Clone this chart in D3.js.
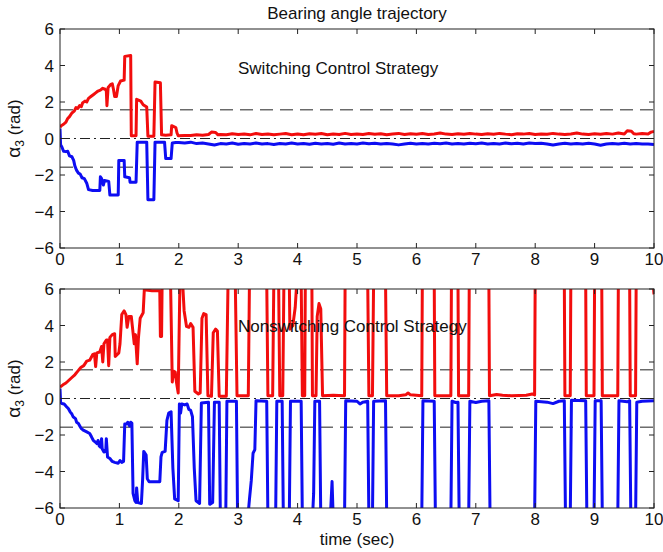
<!DOCTYPE html>
<html><head><meta charset="utf-8">
<script src="https://cdn.jsdelivr.net/npm/d3@7"></script>
<style>
body{margin:0;background:#fff}
text{font-family:"Liberation Sans",Arial,Helvetica,sans-serif;fill:#111}
</style>
</head><body>
<svg id="chart" width="663" height="552"></svg>
<script>
// ---------- data ----------
const xTicks = [0,1,2,3,4,5,6,7,8,9,10];
const yTicks = [-6,-4,-2,0,2,4,6];
const thresholds = [1.5708, -1.5708];
const titleText = "Bearing angle trajectory";
const panelLabels = ["Switching Control Strategy", "Nonswitching Control Strategy"];
const xLabel = "time (sec)";

// Switching control (top) — red / blue trajectories [t, alpha3]
const switchRed = [[0,0.62],[0.02,0.7],[0.06,0.78],[0.1,0.9],[0.13,1.1],[0.16,1.2],[0.2,1.4],[0.24,1.5],[0.27,1.7],[0.3,1.65],[0.33,1.8],[0.36,1.75],[0.38,1.95],[0.42,2.05],[0.45,2.0],[0.48,2.2],[0.52,2.3],[0.56,2.4],[0.6,2.5],[0.64,2.6],[0.68,2.65],[0.72,2.75],[0.76,2.7],[0.78,2.6],[0.79,1.8],[0.81,2.8],[0.85,2.95],[0.88,3.0],[0.9,2.7],[0.92,2.3],[0.95,2.3],[0.98,2.9],[1.02,3.15],[1.08,3.2],[1.09,4.5],[1.19,4.55],[1.2,0.15],[1.28,0.15],[1.29,2.15],[1.36,2.05],[1.4,1.85],[1.46,1.72],[1.48,0.12],[1.58,0.12],[1.6,3.1],[1.69,3.05],[1.71,0.2],[1.78,0.18],[1.87,0.2],[1.88,0.7],[1.95,0.6],[1.97,0.3],[1.99,0.15],
[2.1,0.17],[2.2,0.16],[2.3,0.2],[2.4,0.18],[2.5,0.22],[2.55,0.35],[2.62,0.33],[2.66,0.2],[2.7,0.22],[2.8,0.2],[2.9,0.26],[3.0,0.22],[3.1,0.25],[3.2,0.2],[3.3,0.27],[3.4,0.22],[3.5,0.25],[3.6,0.2],[3.7,0.24],[3.8,0.27],[3.9,0.21],[4.0,0.25],[4.1,0.2],[4.2,0.26],[4.3,0.23],[4.4,0.27],[4.5,0.21],[4.6,0.25],[4.7,0.22],[4.8,0.28],[4.9,0.22],[5.0,0.25],[5.1,0.22],[5.2,0.27],[5.3,0.23],[5.4,0.26],[5.5,0.21],[5.6,0.25],[5.7,0.28],[5.8,0.22],[5.9,0.26],[6.0,0.23],[6.1,0.27],[6.2,0.22],[6.3,0.25],[6.4,0.3],[6.5,0.24],[6.6,0.22],[6.7,0.26],[6.8,0.23],[6.9,0.27],[7.0,0.24],[7.1,0.22],[7.2,0.26],[7.3,0.23],[7.4,0.28],[7.5,0.24],[7.6,0.21],[7.7,0.26],[7.8,0.24],[7.9,0.27],[8.0,0.22],[8.1,0.25],[8.2,0.23],[8.3,0.28],[8.4,0.24],[8.5,0.22],[8.6,0.25],[8.7,0.3],[8.8,0.24],[8.9,0.22],[9.0,0.26],[9.1,0.23],[9.2,0.27],[9.3,0.24],[9.4,0.3],[9.5,0.25],[9.55,0.42],[9.62,0.4],[9.66,0.26],[9.7,0.24],[9.8,0.27],[9.9,0.25],[9.95,0.35],[10,0.38]];

const switchBlue = [[0,0.55],[0.01,-0.35],[0.03,-0.45],[0.06,-0.7],[0.1,-0.72],[0.13,-0.7],[0.16,-0.95],[0.2,-1.0],[0.23,-1.2],[0.25,-1.5],[0.28,-1.75],[0.31,-1.9],[0.34,-1.95],[0.37,-2.15],[0.41,-2.2],[0.45,-2.45],[0.48,-2.8],[0.55,-2.85],[0.67,-2.85],[0.68,-2.1],[0.7,-2.2],[0.73,-2.55],[0.75,-2.3],[0.82,-2.35],[0.84,-3.1],[0.98,-3.1],[0.99,-1.2],[1.08,-1.2],[1.09,-2.1],[1.17,-2.15],[1.18,-2.4],[1.28,-2.4],[1.3,-0.2],[1.46,-0.2],[1.48,-3.35],[1.58,-3.35],[1.6,-0.2],[1.76,-0.2],[1.78,-1.1],[1.87,-1.1],[1.89,-0.25],[1.95,-0.22],
[2.0,-0.22],[2.1,-0.25],[2.2,-0.2],[2.3,-0.28],[2.4,-0.25],[2.5,-0.3],[2.6,-0.36],[2.7,-0.28],[2.8,-0.3],[2.9,-0.25],[3.0,-0.32],[3.1,-0.27],[3.2,-0.3],[3.3,-0.25],[3.4,-0.3],[3.5,-0.28],[3.6,-0.33],[3.7,-0.27],[3.8,-0.3],[3.9,-0.25],[4.0,-0.3],[4.1,-0.27],[4.2,-0.32],[4.3,-0.26],[4.4,-0.3],[4.5,-0.27],[4.6,-0.31],[4.7,-0.25],[4.8,-0.3],[4.9,-0.27],[5.0,-0.3],[5.1,-0.25],[5.2,-0.29],[5.3,-0.26],[5.4,-0.3],[5.5,-0.27],[5.6,-0.3],[5.7,-0.35],[5.8,-0.3],[5.9,-0.26],[6.0,-0.3],[6.1,-0.27],[6.2,-0.3],[6.3,-0.26],[6.4,-0.29],[6.5,-0.25],[6.6,-0.3],[6.7,-0.27],[6.8,-0.3],[6.9,-0.26],[7.0,-0.29],[7.1,-0.25],[7.2,-0.3],[7.3,-0.27],[7.4,-0.3],[7.5,-0.25],[7.6,-0.29],[7.7,-0.26],[7.8,-0.3],[7.9,-0.25],[8.0,-0.28],[8.1,-0.26],[8.2,-0.3],[8.3,-0.36],[8.4,-0.3],[8.5,-0.26],[8.6,-0.3],[8.7,-0.27],[8.8,-0.3],[8.9,-0.26],[9.0,-0.3],[9.1,-0.37],[9.2,-0.3],[9.3,-0.27],[9.4,-0.3],[9.5,-0.26],[9.6,-0.3],[9.7,-0.28],[9.8,-0.3],[9.9,-0.3],[10,-0.33]];

// Nonswitching control (bottom) — values beyond ±6 leave the axes
const nonswRed = [[0,0.62],[0.05,0.75],[0.1,0.85],[0.15,1.0],[0.2,1.15],[0.25,1.3],[0.3,1.5],[0.35,1.7],[0.4,1.8],[0.45,2.05],[0.5,2.1],[0.55,2.4],[0.58,2.45],[0.6,1.75],[0.62,2.5],[0.67,2.55],[0.7,2.85],[0.72,2.0],[0.74,3.0],[0.78,3.2],[0.8,3.2],[0.82,1.8],[0.84,3.35],[0.88,3.5],[0.92,3.55],[0.93,2.3],[0.96,2.4],[0.99,2.5],[1.01,3.0],[1.04,4.6],[1.08,4.8],[1.11,4.6],[1.13,3.9],[1.16,4.5],[1.2,4.5],[1.23,3.6],[1.25,3.0],[1.27,3.5],[1.3,1.9],[1.32,3.3],[1.35,4.4],[1.4,4.7],[1.42,6.0],[1.45,5.95],[1.55,5.9],[1.68,5.9],[1.69,3.4],[1.71,3.4],[1.72,6.6],[1.86,6.6],[1.89,0.9],[1.91,1.5],[1.94,1.45],[1.96,0.9],[1.99,0.3],[2.02,6.6],[2.06,6.6],[2.09,4.8],[2.13,3.95],[2.17,3.9],[2.2,4.1],[2.24,3.9],[2.27,0.4],[2.33,0.25],[2.36,0.3],[2.39,4.4],[2.42,4.65],[2.46,4.6],[2.49,0.15],[2.55,0.12],[2.58,3.6],[2.62,3.8],[2.65,3.7],[2.68,0.12],[2.8,0.12],[2.83,6.6],[2.95,6.6],[2.98,0.15],[3.17,0.15],[3.19,6.6],[3.48,6.6],[3.5,0.15],[3.58,0.15],[3.6,6.6],[3.68,6.6],[3.7,0.15],[3.75,0.15],[3.77,6.6],[3.86,6.6],[3.87,3.8],[3.92,4.0],[3.96,5.0],[3.99,6.6],[4.06,6.6],[4.08,0.15],[4.12,0.15],[4.13,6.6],[4.24,6.6],[4.25,0.15],[4.31,0.15],[4.33,4.5],[4.36,5.2],[4.39,4.9],[4.42,0.15],[4.6,0.18],[4.79,0.15],[4.8,6.6],[5.18,6.6],[5.2,0.15],[5.26,0.15],[5.28,6.6],[5.48,6.6],[5.5,0.15],[5.7,0.15],[5.82,0.2],[5.86,0.3],[5.9,0.2],[6.09,0.15],[6.1,6.6],[6.3,6.6],[6.31,0.15],[6.58,0.15],[6.59,6.6],[6.7,6.6],[6.71,0.15],[6.88,0.15],[6.89,6.6],[7.22,6.6],[7.23,0.15],[7.35,0.22],[7.45,0.18],[7.6,0.15],[7.85,0.18],[7.95,0.25],[7.99,0.2],[8.0,6.6],[8.49,6.6],[8.5,0.15],[8.59,0.15],[8.6,6.6],[8.85,6.6],[8.86,0.15],[8.99,0.15],[9.0,6.6],[9.12,6.6],[9.13,0.15],[9.39,0.15],[9.4,6.6],[9.59,6.6],[9.6,0.15],[9.69,0.15],[9.7,6.6],[9.98,6.6],[10,5.7]];

const nonswBlue = [[0,0.55],[0.01,-0.2],[0.03,-0.27],[0.07,-0.3],[0.11,-0.45],[0.14,-0.55],[0.17,-0.73],[0.2,-0.85],[0.22,-1.0],[0.26,-1.1],[0.28,-1.3],[0.31,-1.37],[0.34,-1.55],[0.36,-1.65],[0.4,-1.75],[0.45,-1.83],[0.5,-1.92],[0.53,-2.1],[0.56,-2.29],[0.6,-2.4],[0.62,-2.47],[0.64,-2.3],[0.66,-2.6],[0.68,-2.66],[0.7,-2.2],[0.71,-2.75],[0.74,-2.93],[0.77,-2.9],[0.78,-2.2],[0.8,-3.2],[0.84,-3.29],[0.88,-3.45],[0.92,-3.5],[0.98,-3.55],[1.01,-3.4],[1.04,-3.5],[1.07,-3.45],[1.09,-1.4],[1.12,-1.4],[1.14,-1.3],[1.17,-1.5],[1.19,-1.3],[1.21,-1.35],[1.23,-5.2],[1.26,-5.6],[1.28,-5.7],[1.29,-4.9],[1.31,-5.7],[1.37,-5.75],[1.39,-4.5],[1.41,-2.9],[1.45,-3.1],[1.47,-4.4],[1.5,-4.56],[1.68,-4.56],[1.7,-3.2],[1.72,-2.95],[1.77,-2.9],[1.8,-1.2],[1.83,-0.8],[1.87,-0.73],[1.9,-3.8],[1.93,-5.5],[1.99,-5.6],[2.01,-0.3],[2.03,-0.8],[2.05,-0.3],[2.1,-0.35],[2.14,-0.3],[2.17,-0.6],[2.2,-0.65],[2.23,-1.0],[2.26,-3.8],[2.29,-5.6],[2.35,-5.75],[2.38,-0.25],[2.5,-0.2],[2.52,-5.8],[2.57,-5.7],[2.6,-0.2],[2.68,-0.2],[2.7,-6.6],[2.79,-6.6],[2.81,-0.15],[2.97,-0.15],[2.99,-6.6],[3.16,-6.6],[3.19,-5.5],[3.22,-4.5],[3.25,-3.0],[3.28,-2.8],[3.3,-0.12],[3.48,-0.15],[3.5,-6.6],[3.63,-6.6],[3.65,-0.15],[3.74,-0.15],[3.76,-6.6],[3.86,-6.6],[3.88,-0.15],[4.06,-0.15],[4.08,-6.6],[4.25,-6.6],[4.27,-5.2],[4.29,-0.15],[4.37,-0.15],[4.39,-6.6],[4.55,-6.6],[4.58,-4.55],[4.6,-6.6],[4.79,-6.6],[4.81,-0.12],[5.0,-0.15],[5.05,-0.3],[5.1,-0.2],[5.18,-0.15],[5.2,-6.6],[5.26,-6.6],[5.28,-0.15],[5.48,-0.12],[5.5,-6.6],[6.09,-6.6],[6.11,-0.12],[6.3,-0.15],[6.32,-6.6],[6.58,-6.6],[6.6,-0.15],[6.66,-0.22],[6.7,-0.2],[6.72,-6.6],[6.88,-6.6],[6.9,-0.15],[7.0,-0.22],[7.1,-0.15],[7.22,-0.12],[7.24,-6.6],[7.99,-6.6],[8.01,-0.15],[8.2,-0.2],[8.3,-0.28],[8.4,-0.15],[8.49,-0.12],[8.51,-6.6],[8.59,-6.6],[8.61,-0.1],[8.85,-0.12],[8.87,-6.6],[8.99,-6.6],[9.01,-0.12],[9.11,-0.12],[9.13,-6.6],[9.39,-6.6],[9.41,-0.12],[9.55,-0.18],[9.59,-0.12],[9.61,-6.6],[9.69,-6.6],[9.71,-0.2],[9.8,-0.15],[10,-0.12]];

// ---------- drawing ----------
const svg = d3.select("#chart");
const left = 60, right = 654;
const x = d3.scaleLinear().domain([0,10]).range([left,right]);
const fmt = d3.format("d");

svg.append("text").attr("x",(left+right)/2).attr("y",19).attr("text-anchor","middle")
  .attr("font-size",17).text(titleText);

const panels = [
  {top:29, bottom:248, red:switchRed, blue:switchBlue, label:panelLabels[0], lx:238, ly:74},
  {top:289, bottom:508, red:nonswRed, blue:nonswBlue, label:panelLabels[1], lx:238, ly:332}
];

panels.forEach((p,i)=>{
  const y = d3.scaleLinear().domain([-6,6]).range([p.bottom,p.top]);
  const g = svg.append("g");
  const clipId = "clip"+i;
  svg.append("clipPath").attr("id",clipId).append("rect")
    .attr("x",left).attr("y",p.top).attr("width",right-left).attr("height",p.bottom-p.top);

  // reference lines
  g.selectAll(".th").data(thresholds).join("line")
    .attr("x1",left).attr("x2",right).attr("y1",d=>y(d)).attr("y2",d=>y(d))
    .attr("stroke","#222").attr("stroke-width",1).attr("stroke-dasharray","13,7");
  g.append("line").attr("x1",left).attr("x2",right).attr("y1",y(0)).attr("y2",y(0))
    .attr("stroke","#222").attr("stroke-width",1).attr("stroke-dasharray","10,4,2,4");

  const line = d3.line().x(d=>x(d[0])).y(d=>y(d[1]));
  const lg = g.append("g").attr("clip-path",`url(#${clipId})`);
  lg.append("path").datum(p.red).attr("d",line).attr("fill","none")
    .attr("stroke","#f20d0d").attr("stroke-width",3).attr("stroke-linejoin","round");
  lg.append("path").datum(p.blue).attr("d",line).attr("fill","none")
    .attr("stroke","#0d0df2").attr("stroke-width",3).attr("stroke-linejoin","round");

  // axes (MATLAB style: ticks inside, all four sides)
  const tl = 5;
  const ax = g.append("g").attr("stroke","#222").attr("stroke-width",1);
  ax.append("rect").attr("x",left).attr("y",p.top).attr("width",right-left).attr("height",p.bottom-p.top)
    .attr("fill","none");
  xTicks.forEach(t=>{
    ax.append("line").attr("x1",x(t)).attr("x2",x(t)).attr("y1",p.bottom).attr("y2",p.bottom-tl);
    ax.append("line").attr("x1",x(t)).attr("x2",x(t)).attr("y1",p.top).attr("y2",p.top+tl);
  });
  yTicks.forEach(t=>{
    ax.append("line").attr("x1",left).attr("x2",left+tl).attr("y1",y(t)).attr("y2",y(t));
    ax.append("line").attr("x1",right).attr("x2",right-tl).attr("y1",y(t)).attr("y2",y(t));
  });
  g.selectAll(".xt").data(xTicks).join("text")
    .attr("x",d=>x(d)).attr("y",p.bottom+17).attr("text-anchor","middle")
    .attr("font-size",17).text(d=>fmt(d));
  g.selectAll(".yt").data(yTicks).join("text")
    .attr("x",left-6).attr("y",d=>y(d)+6).attr("text-anchor","end")
    .attr("font-size",17).text(d=>fmt(d));

  // y label
  const cy = (p.top+p.bottom)/2 - 10;
  const yl = g.append("text").attr("transform",`translate(20,${cy}) rotate(-90)`)
    .attr("text-anchor","middle").attr("font-size",17);
  yl.append("tspan").attr("font-size",19).text("α");
  yl.append("tspan").attr("font-size",12).attr("dy",4).text("3");
  yl.append("tspan").attr("dy",-4).text(" (rad)");

  g.append("text").attr("x",p.lx).attr("y",p.ly).attr("font-size",17).text(p.label);
});

svg.append("text").attr("x",(left+right)/2).attr("y",545).attr("text-anchor","middle")
  .attr("font-size",17).text(xLabel);
</script>
</body></html>
